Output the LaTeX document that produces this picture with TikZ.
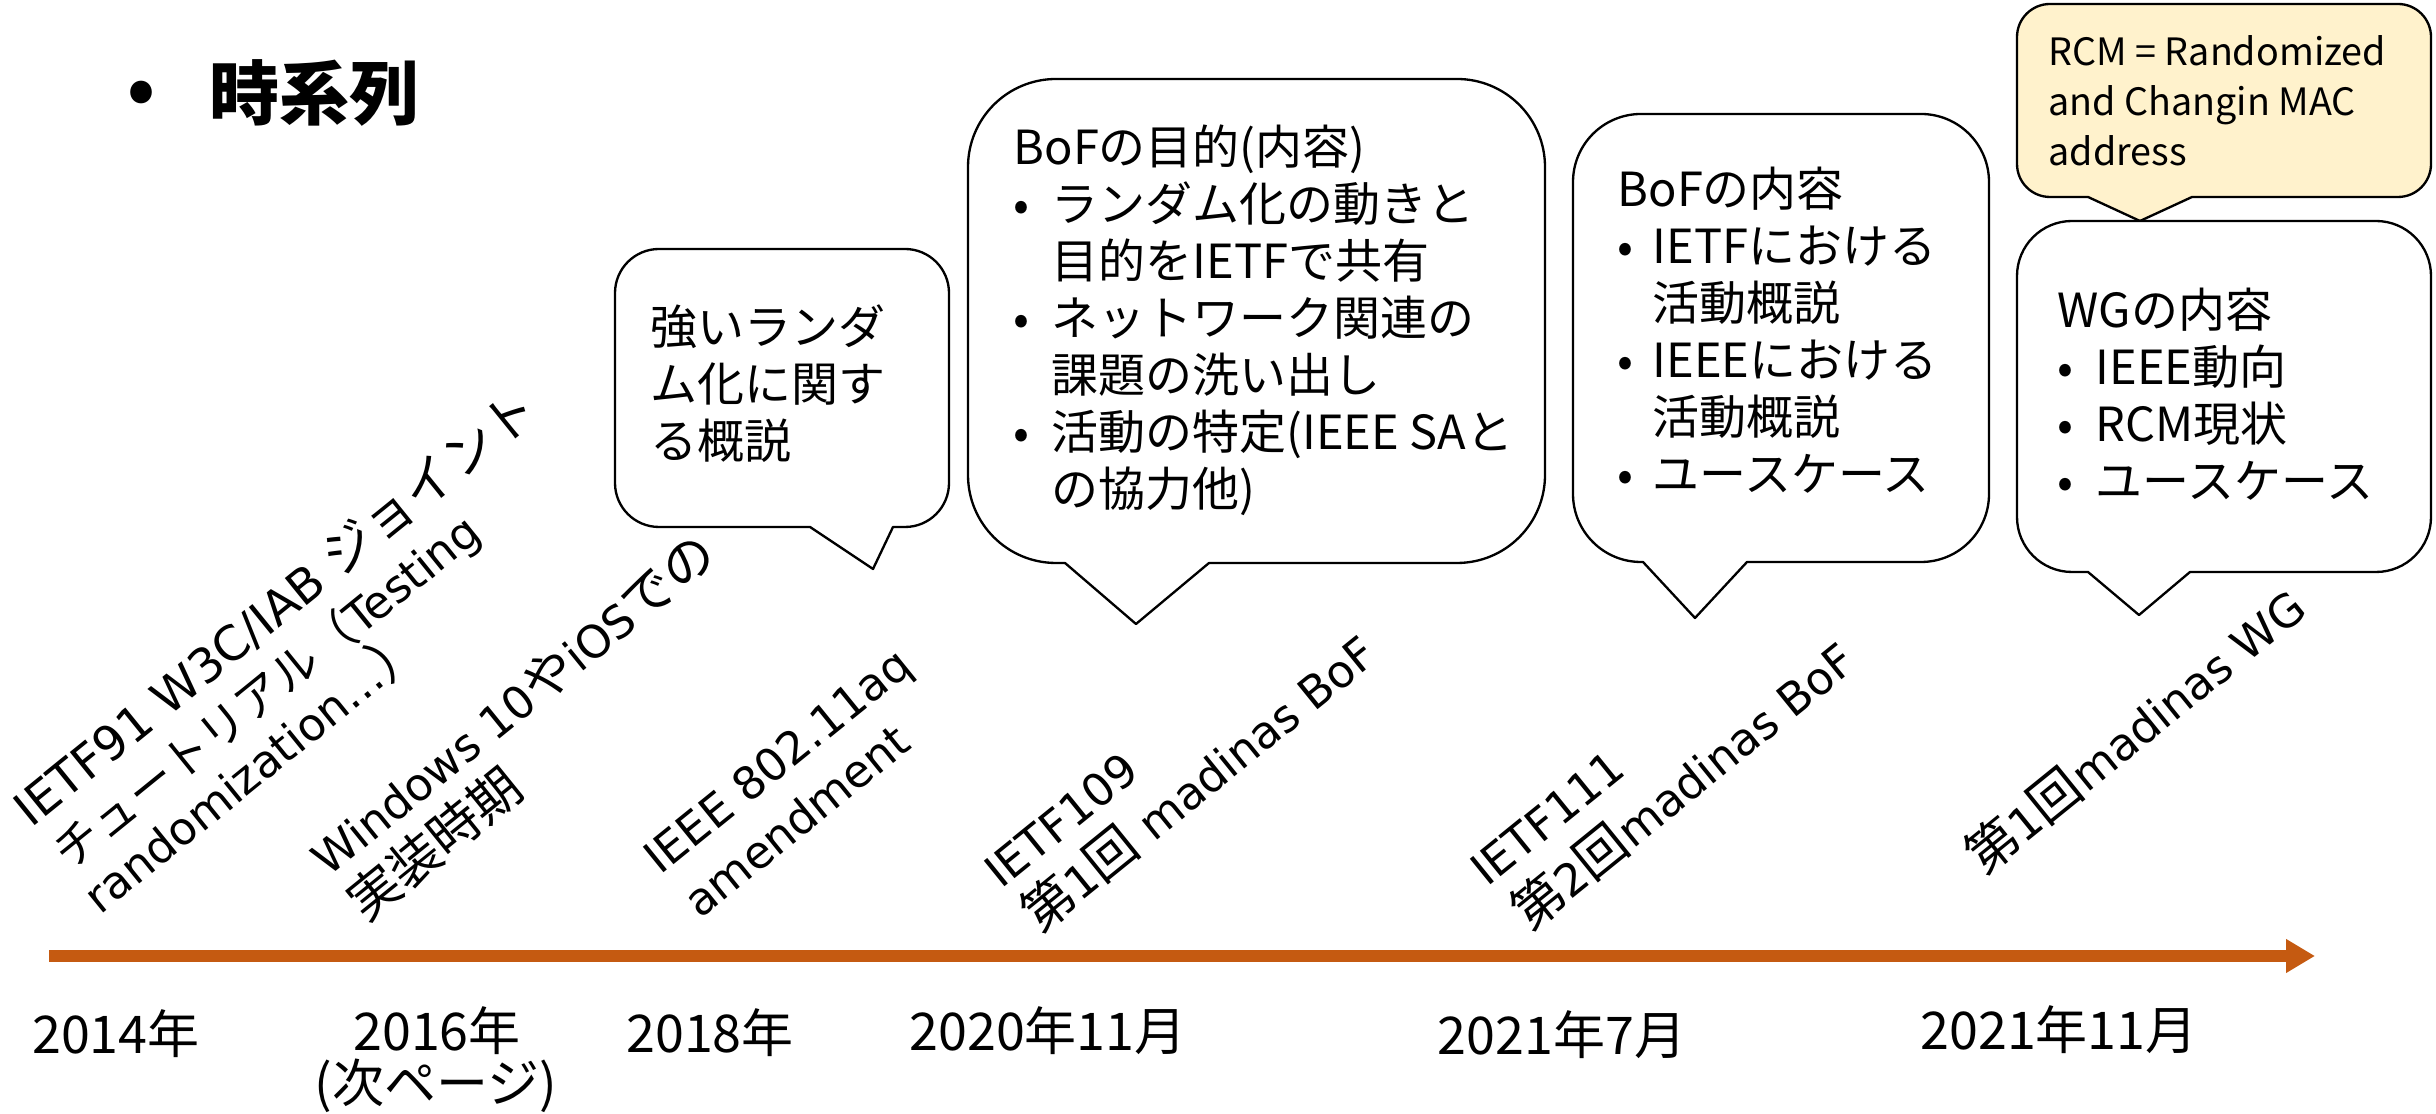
\documentclass[tikz,border=0pt]{standalone}
\usepackage{fontspec}
\setmainfont{Noto Sans CJK JP}
\newfontfamily\latf{DejaVu Sans}
\newfontfamily\jpf{Noto Sans CJK JP}
\usetikzlibrary{arrows.meta}
\definecolor{tlcol}{RGB}{197,90,17}
\definecolor{notecol}{RGB}{255,242,204}
\newcommand{\bul}[1]{\makebox[#1][l]{•}}
\newcommand{\jtxt}[1]{{\jpf\fontsize{15.5}{17.4}\selectfont #1}}
\newcommand{\jtxtsm}[1]{{\jpf\fontsize{14}{17.4}\selectfont #1}}
\begin{document}
\begin{tikzpicture}[x=0.3pt,y=0.3pt,
  bub/.style={draw=black, line width=0.7pt, fill=white, line join=round},
  btxt/.style={anchor=north west, inner sep=0pt, align=left, font=\fontsize{14.1}{17.1}\selectfont},
  rot/.style={anchor=base west, inner sep=0pt, rotate=39, font=\latf\fontsize{13.5}{17.4}\selectfont},
  datelbl/.style={anchor=base, inner sep=0pt, font=\fontsize{15.6}{18}\selectfont}]
\useasboundingbox (0,0) rectangle (2436,-1114);

% title
\node[inner sep=0pt, font=\fontsize{21}{25}\selectfont\bfseries] (tbul) at (142,-97) {•};
\node[anchor=base west, inner sep=0pt, font=\fontsize{21}{25}\selectfont\bfseries] (title) at (209,-120) {時系列};

% bubble 1
\draw[bub] (810,-527) -- (873,-569) -- (893,-527) -- (905,-527)
  arc[start angle=-90,end angle=0,radius=13.2pt] -- (949,-293)
  arc[start angle=0,end angle=90,radius=13.2pt] -- (659,-249)
  arc[start angle=90,end angle=180,radius=13.2pt] -- (615,-483)
  arc[start angle=180,end angle=270,radius=13.2pt] -- cycle;
\node[btxt] (t1) at (650,-304) {強いランダ\\ム化に関す\\る概説};

% bubble 2
\draw[bub] (1065,-563) -- (1136,-624) -- (1209,-563) -- (1457,-563)
  arc[start angle=-90,end angle=0,radius=26.4pt] -- (1545,-167)
  arc[start angle=0,end angle=90,radius=26.4pt] -- (1056,-79)
  arc[start angle=90,end angle=180,radius=26.4pt] -- (968,-475)
  arc[start angle=180,end angle=270,radius=26.4pt] -- cycle;
\node[btxt] (t2) at (1013,-124) {BoFの目的(内容)\\
\bul{11.4pt}ランダム化の動きと\\
\hspace*{11.4pt}目的をIETFで共有\\
\bul{11.4pt}ネットワーク関連の\\
\hspace*{11.4pt}課題の洗い出し\\
\bul{11.4pt}活動の特定(IEEE SAと\\
\hspace*{11.4pt}の協力他)};

% bubble 3
\draw[bub] (1643,-562) -- (1695,-618) -- (1747,-562) -- (1921,-562)
  arc[start angle=-90,end angle=0,radius=20.4pt] -- (1989,-182)
  arc[start angle=0,end angle=90,radius=20.4pt] -- (1641,-114)
  arc[start angle=90,end angle=180,radius=20.4pt] -- (1573,-494)
  arc[start angle=180,end angle=270,radius=20.4pt] -- cycle;
\node[btxt] (t3) at (1617,-166) {BoFの内容\\
\bul{10.5pt}IETFにおける\\
\hspace*{10.5pt}活動概説\\
\bul{10.5pt}IEEEにおける\\
\hspace*{10.5pt}活動概説\\
\bul{10.5pt}ユースケース};

% yellow note
\draw[bub, fill=notecol] (2088,-197) -- (2140,-221) -- (2192,-197) -- (2398,-197)
  arc[start angle=-90,end angle=0,radius=9.9pt] -- (2431,-37)
  arc[start angle=0,end angle=90,radius=9.9pt] -- (2050,-4)
  arc[start angle=90,end angle=180,radius=9.9pt] -- (2017,-164)
  arc[start angle=180,end angle=270,radius=9.9pt] -- cycle;
\node[btxt, font=\fontsize{11.3}{15}\selectfont] (tn) at (2048,-35) {RCM = Randomized\\and Changin MAC\\address};

% bubble 4
\draw[bub] (2088,-572) -- (2139,-615) -- (2190,-572) -- (2376,-572)
  arc[start angle=-90,end angle=0,radius=16.5pt] -- (2431,-276)
  arc[start angle=0,end angle=90,radius=16.5pt] -- (2072,-221)
  arc[start angle=90,end angle=180,radius=16.5pt] -- (2017,-517)
  arc[start angle=180,end angle=270,radius=16.5pt] -- cycle;
\node[btxt] (t4) at (2057,-287) {WGの内容\\
\bul{11.4pt}IEEE動向\\
\bul{11.4pt}RCM現状\\
\bul{11.4pt}ユースケース};

% rotated event labels
\node[rot, font=\latf\fontsize{14.3}{17.4}\selectfont] (a1) at (31,-829) {IETF91 W3C/IAB \jtxt{ジョイント}};
\node[rot] (a2) at (70,-872) {\jtxtsm{チュートリアル（}Testing};
\node[rot] (a3) at (100,-916) {randomization…\jtxt{）}};
\node[rot] (b1) at (328,-878) {Windows 10\jtxt{や}iOS\jtxt{での}};
\node[rot] (b2) at (366,-924) {\jtxt{実装時期}};
\node[rot] (c1) at (660,-876) {IEEE 802.11aq};
\node[rot] (c2) at (700,-920) {amendment};
\node[rot] (d1) at (1001,-890) {IETF109};
\node[rot] (d2) at (1040,-935) {\jtxt{第}1\jtxt{回} madinas BoF};
\node[rot] (e1) at (1487,-888) {IETF111};
\node[rot] (e2) at (1530,-933) {\jtxt{第}2\jtxt{回}madinas BoF};
\node[rot] (f1) at (1984,-877) {\jtxt{第}1\jtxt{回}madinas WG};

% timeline
\coordinate (ts) at (49,-956);
\coordinate (te) at (2315,-956);
\draw[tlcol, line width=3.6pt, -{Triangle[length=8.7pt,width=9.6pt]}] (ts) -- (te);

% dates
\node[datelbl] (y1) at (116,-1054) {2014年};
\node[datelbl] (y2) at (437,-1051) {2016年};
\node[datelbl] (y2b) at (436,-1103) {(次ページ)};
\node[datelbl] (y3) at (710,-1053) {2018年};
\node[datelbl] (y4) at (1048,-1051) {2020年11月};
\node[datelbl] (y5) at (1562,-1055) {2021年7月};
\node[datelbl] (y6) at (2059,-1050) {2021年11月};
\end{tikzpicture}
\end{document}
